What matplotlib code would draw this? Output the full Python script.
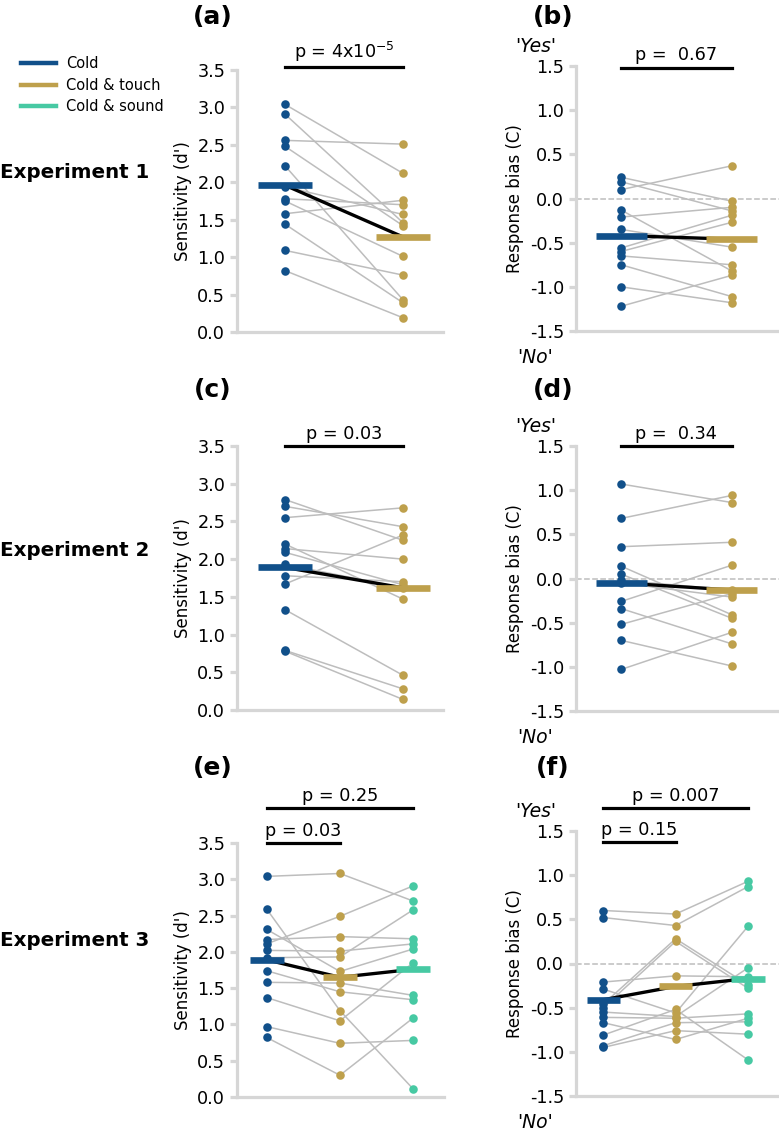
import numpy as np
import matplotlib.pyplot as plt
from matplotlib.lines import Line2D

# condition names / colours
conditions = ['Cold', 'Cold & touch', 'Cold & sound']
cond_colors = ['#11508a', '#bea04c', '#47c9a3']

# Experiment 1 (paired per participant)
exp1_d_cold = [3.04, 2.91, 2.56, 2.48, 2.22, 1.94, 1.78, 1.75, 1.58, 1.44, 1.09, 0.82]
exp1_d_touch = [2.12, 1.46, 2.51, 1.42, 0.43, 1.57, 1.70, 1.01, 1.76, 0.39, 0.76, 0.19]
exp1_d_means = [1.96, 1.27]
exp1_c_cold = [0.24, 0.19, 0.10, -0.13, -0.21, -0.35, -0.56, -0.60, -0.65, -0.75, -1.00, -1.22]
exp1_c_touch = [-0.03, -0.14, 0.37, -0.82, -0.10, -0.55, -0.19, -0.27, -0.75, -1.11, -1.18, -0.87]
exp1_c_means = [-0.42, -0.46]

# Experiment 2
exp2_d_cold = [2.79, 2.70, 2.55, 2.20, 2.14, 2.09, 1.93, 1.78, 1.67, 1.33, 0.79, 0.78]
exp2_d_touch = [2.25, 2.43, 2.68, 1.47, 2.00, 1.66, 1.62, 1.70, 2.32, 0.46, 0.28, 0.14]
exp2_d_means = [1.89, 1.62]
exp2_c_cold = [1.07, 0.68, 0.36, 0.14, 0.05, -0.02, -0.05, -0.26, -0.34, -0.52, -0.70, -1.03]
exp2_c_touch = [0.86, 0.94, 0.41, -0.41, -0.45, -0.13, -0.21, 0.15, -0.74, -0.17, -0.99, -0.61]
exp2_c_means = [-0.05, -0.13]

# Experiment 3
exp3_d_cold = [3.04, 2.59, 2.31, 2.17, 2.11, 2.02, 1.92, 1.74, 1.58, 1.37, 0.97, 0.82]
exp3_d_touch = [3.08, 1.19, 1.73, 2.21, 2.49, 2.01, 1.93, 1.45, 1.57, 1.05, 0.74, 0.30]
exp3_d_sound = [2.70, 0.11, 2.04, 2.18, 2.91, 2.11, 2.58, 1.34, 1.40, 1.85, 0.78, 1.09]
exp3_d_means = [1.89, 1.65, 1.76]
exp3_c_cold = [0.60, 0.52, -0.21, -0.29, -0.46, -0.50, -0.55, -0.61, -0.67, -0.81, -0.93, -0.95]
exp3_c_touch = [0.56, 0.43, -0.14, -0.56, 0.28, 0.25, -0.60, -0.62, -0.86, -0.52, -0.67, -0.76]
exp3_c_sound = [0.93, 0.87, -0.15, 0.42, -0.24, -0.28, -0.05, -0.57, -0.62, -1.09, -0.66, -0.80]
exp3_c_means = [-0.41, -0.26, -0.17]

W, H = 779, 1132
SPINE = '#d6d6d6'

fig = plt.figure(figsize=(W / 100, H / 100), dpi=100)


def add_ax(l, t, r, b):
    return fig.add_axes([l / W, 1 - b / H, (r - l) / W, (b - t) / H])


def style(ax, kind, xlim):
    for s in ['top', 'right']:
        ax.spines[s].set_visible(False)
    for s in ['left', 'bottom']:
        ax.spines[s].set_color(SPINE)
        ax.spines[s].set_linewidth(2.3)
    ax.set_xticks([])
    ax.set_xlim(*xlim)
    ax.tick_params(axis='y', color=SPINE, width=2.3, length=5, labelsize=12.7)
    if kind == 'd':
        ax.set_ylim(0, 3.5)
        ax.set_yticks(np.arange(0, 3.51, 0.5))
        ax.set_ylabel("Sensitivity (d')", fontsize=12)
    else:
        ax.set_ylim(-1.5, 1.5)
        ax.set_yticks(np.arange(-1.5, 1.51, 0.5))
        ax.set_ylabel('Response bias (C)', fontsize=12)
        ax.axhline(0, color='#bdbdbd', lw=1.1, ls='--', zorder=0)
        ax.text(-0.2, 1.075, "'Yes'", transform=ax.transAxes, ha='center',
                va='center', fontsize=13.5, style='italic')
        ax.text(-0.2, -0.1, "'No'", transform=ax.transAxes, ha='center',
                va='center', fontsize=13.5, style='italic')
    ax.yaxis.set_major_formatter(plt.FormatStrFormatter('%.1f'))


def draw(ax, groups, means):
    xs = np.arange(len(groups))
    data = np.array(groups)
    for j in range(data.shape[1]):
        ax.plot(xs, data[:, j], color='#bdbdbd', lw=1.1, zorder=1)
    for i, g in enumerate(groups):
        ax.scatter(np.full(len(g), xs[i]), g, s=38, color=cond_colors[i],
                   zorder=2, linewidths=0)
    ax.plot(xs, means, color='k', lw=2.4, zorder=3, solid_capstyle='butt')
    for i, m in enumerate(means):
        ax.hlines(m, xs[i] - 0.23, xs[i] + 0.23, color=cond_colors[i],
                  lw=4.8, zorder=4)


def pbar(ax, x0, x1, y, text):
    ax.plot([x0, x1], [y, y], color='k', lw=2.3, clip_on=False)
    ax.annotate(text, xy=((x0 + x1) / 2, y), xytext=(0, 2.5),
                textcoords='offset points', ha='center', va='bottom',
                fontsize=12.7, annotation_clip=False)


# panel (a)
ax = add_ax(237, 70, 443, 332)
style(ax, 'd', (-0.407, 1.339))
draw(ax, [exp1_d_cold, exp1_d_touch], exp1_d_means)
pbar(ax, 0, 1, 3.54, 'p = 4x10$^{-5}$')

# panel (b)
ax = add_ax(576, 66, 779, 331)
style(ax, 'c', (-0.407, 1.427))
draw(ax, [exp1_c_cold, exp1_c_touch], exp1_c_means)
pbar(ax, 0, 1, 1.48, 'p =  0.67')

# panel (c)
ax = add_ax(237, 446, 443, 710)
style(ax, 'd', (-0.407, 1.339))
draw(ax, [exp2_d_cold, exp2_d_touch], exp2_d_means)
pbar(ax, 0, 1, 3.5, 'p = 0.03')

# panel (d)
ax = add_ax(576, 446, 779, 711)
style(ax, 'c', (-0.407, 1.427))
draw(ax, [exp2_c_cold, exp2_c_touch], exp2_c_means)
pbar(ax, 0, 1, 1.5, 'p =  0.34')

# panel (e)
ax = add_ax(237, 843, 444, 1097)
style(ax, 'd', (-0.405, 2.42))
draw(ax, [exp3_d_cold, exp3_d_touch, exp3_d_sound], exp3_d_means)
pbar(ax, 0, 2, 3.98, 'p = 0.25')
pbar(ax, 0, 1, 3.5, 'p = 0.03')

# panel (f)
ax = add_ax(576, 831, 779, 1096)
style(ax, 'c', (-0.378, 2.43))
draw(ax, [exp3_c_cold, exp3_c_touch, exp3_c_sound], exp3_c_means)
pbar(ax, 0, 2, 1.76, 'p = 0.007')
pbar(ax, 0, 1, 1.37, 'p = 0.15')

# panel letters and experiment names
for lab, x, y in [('(a)', 213, 17), ('(b)', 553, 17), ('(c)', 213, 390),
                  ('(d)', 553, 390), ('(e)', 213, 768), ('(f)', 553, 768)]:
    fig.text(x / W, 1 - y / H, lab, ha='center', va='center',
             fontsize=18, fontweight='bold')
for i, y in enumerate([173, 550, 940]):
    fig.text(0, 1 - y / H, 'Experiment %d' % (i + 1), ha='left', va='center',
             fontsize=14.3, fontweight='bold')

handles = [Line2D([], [], color=c, lw=3.2) for c in cond_colors]
fig.legend(handles, conditions, loc='upper left',
           bbox_to_anchor=(14 / W, 1 - 49 / H), frameon=False, fontsize=10.5,
           handlelength=2.4, handletextpad=0.7, labelspacing=0.45, borderpad=0)

fig.savefig('out.png', dpi=100)
